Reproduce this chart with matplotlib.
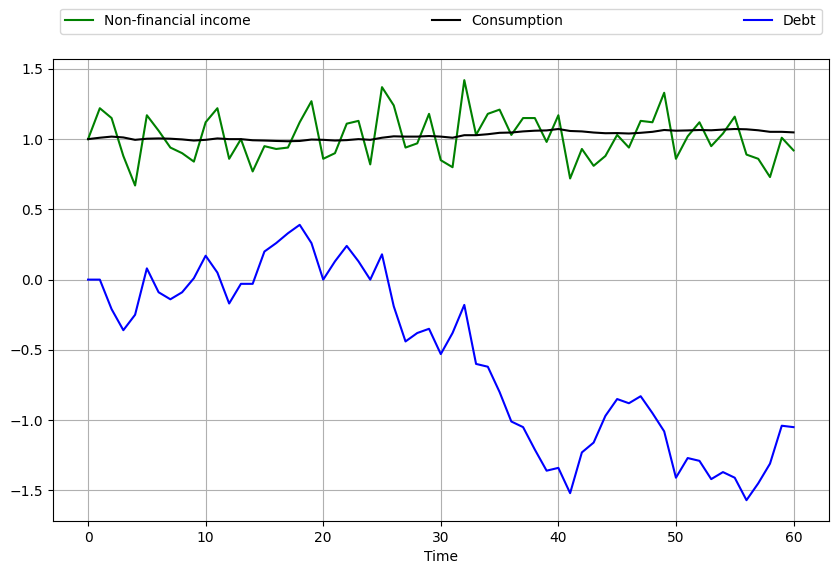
import matplotlib
matplotlib.use('Agg')
import matplotlib.pyplot as plt
import numpy as np

time = np.arange(61)

income = [1.00, 1.22, 1.15, 0.88, 0.67, 1.17, 1.06, 0.94, 0.90, 0.84,
          1.12, 1.22, 0.86, 1.00, 0.77, 0.95, 0.93, 0.94, 1.12, 1.27,
          0.86, 0.90, 1.11, 1.13, 0.82, 1.37, 1.24, 0.94, 0.97, 1.18,
          0.85, 0.80, 1.42, 1.03, 1.18, 1.21, 1.03, 1.15, 1.15, 0.98,
          1.17, 0.72, 0.93, 0.81, 0.88, 1.03, 0.94, 1.13, 1.12, 1.33,
          0.86, 1.02, 1.12, 0.95, 1.04, 1.16, 0.89, 0.86, 0.73, 1.01,
          0.92]

consumption = [1.000, 1.010, 1.018, 1.012, 0.995, 1.003, 1.005, 1.003, 0.998, 0.990,
               0.995, 1.005, 1.000, 1.000, 0.992, 0.990, 0.987, 0.985, 0.987, 0.997,
               0.995, 0.990, 0.993, 1.000, 0.995, 1.010, 1.020, 1.018, 1.018, 1.022,
               1.018, 1.010, 1.028, 1.028, 1.035, 1.045, 1.047, 1.055, 1.060, 1.062,
               1.072, 1.058, 1.055, 1.047, 1.042, 1.043, 1.040, 1.045, 1.052, 1.065,
               1.060, 1.062, 1.065, 1.063, 1.068, 1.072, 1.070, 1.063, 1.052, 1.052,
               1.048]

debt = [0.00, 0.00, -0.21, -0.36, -0.25, 0.08, -0.09, -0.14, -0.09, 0.01,
        0.17, 0.05, -0.17, -0.03, -0.03, 0.20, 0.26, 0.33, 0.39, 0.26,
        0.00, 0.13, 0.24, 0.13, 0.00, 0.18, -0.19, -0.44, -0.38, -0.35,
        -0.53, -0.38, -0.18, -0.60, -0.62, -0.80, -1.01, -1.05, -1.21, -1.36,
        -1.34, -1.52, -1.23, -1.16, -0.97, -0.85, -0.88, -0.83, -0.95, -1.08,
        -1.41, -1.27, -1.29, -1.42, -1.37, -1.41, -1.57, -1.45, -1.31, -1.04,
        -1.05]

fig, ax = plt.subplots(figsize=(8.38, 5.74), dpi=100)
fig.subplots_adjust(left=0.063, right=0.989, bottom=0.092, top=0.897)

ax.plot(time, income, color='green', label='Non-financial income')
ax.plot(time, consumption, color='black', label='Consumption')
ax.plot(time, debt, color='blue', label='Debt')

ax.set_xlabel('Time')
ax.grid()
ax.legend(bbox_to_anchor=(0., 1.04, 1., .102), loc='lower left',
          ncol=3, mode='expand')

fig.savefig('out.png', dpi=100)
